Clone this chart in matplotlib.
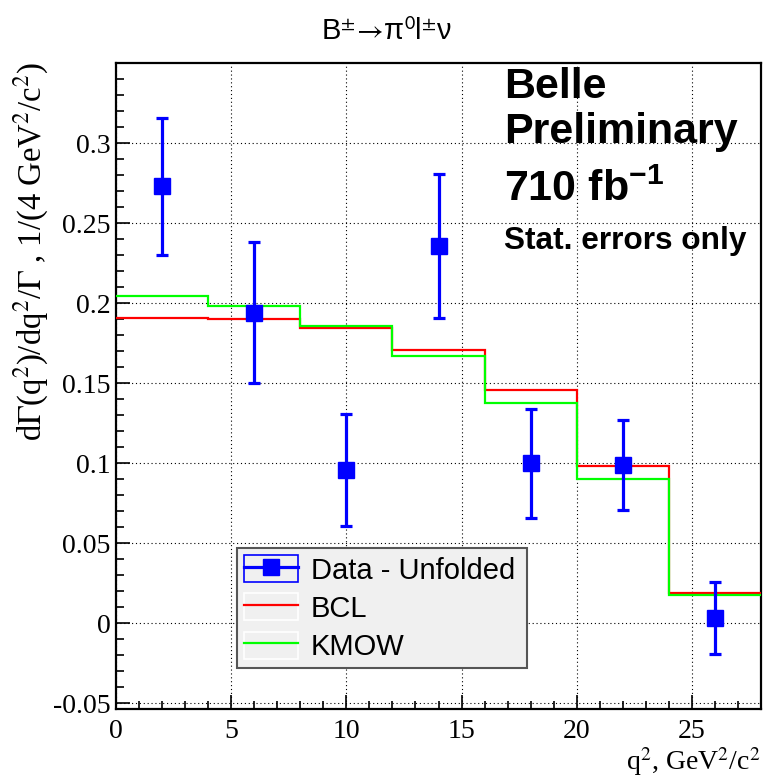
import numpy as np
import matplotlib
matplotlib.use("Agg")
import matplotlib.pyplot as plt
from matplotlib.ticker import MultipleLocator, FuncFormatter
from matplotlib.patches import Rectangle
from matplotlib.lines import Line2D
from matplotlib.legend_handler import HandlerTuple

# data
q2_centers = [2, 6, 10, 14, 18, 22, 26]
data_vals = [0.273, 0.194, 0.096, 0.236, 0.100, 0.099, 0.003]
data_errs = [0.043, 0.044, 0.035, 0.045, 0.034, 0.028, 0.0225]
bin_edges = [0, 4, 8, 12, 16, 20, 24, 28]
bcl_vals = [0.1906, 0.1902, 0.1846, 0.1708, 0.1456, 0.0985, 0.0191]
kmow_vals = [0.2046, 0.1980, 0.1858, 0.1667, 0.1374, 0.0904, 0.0177]
x_ticks = [0, 5, 10, 15, 20, 25]
y_ticks = [-0.05, 0, 0.05, 0.1, 0.15, 0.2, 0.25, 0.3]

plt.rcParams['mathtext.fontset'] = 'custom'
plt.rcParams['mathtext.rm'] = 'Liberation Sans'
plt.rcParams['mathtext.it'] = 'Liberation Sans'
plt.rcParams['mathtext.bf'] = 'Liberation Sans:bold'

W, H = 764, 780
fig = plt.figure(figsize=(W / 100, H / 100), dpi=100)
ax = fig.add_axes([116 / W, 71 / H, 645 / W, 646 / H])

ax.stairs(bcl_vals, bin_edges, baseline=None, color='#ff0000', lw=1.6, zorder=3)
ax.stairs(kmow_vals, bin_edges, baseline=None, color='#00ff00', lw=1.6, zorder=3)
ax.errorbar(q2_centers, data_vals, yerr=data_errs, fmt='s', color='#0000ff',
            ms=11.5, elinewidth=2.3, capsize=4, capthick=2.3, zorder=5)

ax.set_xlim(0, 28)
ax.set_ylim(-0.0537, 0.3502)
ax.set_xticks(x_ticks)
ax.set_yticks(y_ticks)
ax.xaxis.set_minor_locator(MultipleLocator(1))
ax.yaxis.set_minor_locator(MultipleLocator(0.01))
ax.yaxis.set_major_formatter(FuncFormatter(lambda v, p: '0' if abs(v) < 1e-9 else f'{v:g}'))
ax.tick_params(which='both', direction='in', top=False, right=False,
               labelsize=20, width=1.2)
ax.tick_params(which='major', length=10)
ax.tick_params(which='minor', length=5.5)
ax.tick_params(axis='x', pad=7)
ax.tick_params(axis='y', pad=4)
for lab in ax.get_xticklabels() + ax.get_yticklabels():
    lab.set_family('Liberation Serif')
for s in ax.spines.values():
    s.set_linewidth(1.6)
ax.grid(True, which='major', color='black', lw=0.8, linestyle=(0, (1, 2.5)))
ax.set_axisbelow(True)

# legend
h_data = (Rectangle((0, 0), 1, 1, facecolor='none', edgecolor='#0000ff', lw=1.2),
          Line2D([], [], color='#0000ff', lw=2.3, marker='s', ms=11.5))
h_bcl = (Rectangle((0, 0), 1, 1, facecolor='none', edgecolor='white', lw=1.2),
         Line2D([], [], color='#ff0000', lw=1.6))
h_kmow = (Rectangle((0, 0), 1, 1, facecolor='none', edgecolor='white', lw=1.2),
          Line2D([], [], color='#00ff00', lw=1.6))
leg = ax.legend([h_data, h_bcl, h_kmow], ['Data - Unfolded', 'BCL', 'KMOW'],
                handler_map={tuple: HandlerTuple(ndivide=1, pad=0)},
                loc='lower left', bbox_to_anchor=(0.187, 0.063, 0.45, 0.187),
                mode='expand', fancybox=False, shadow=False, framealpha=1,
                facecolor='#f0f0f0', edgecolor='#555555', borderpad=0.25,
                handlelength=1.85, handleheight=1.05, handletextpad=0.45,
                labelspacing=0.3, borderaxespad=0,
                prop={'family': 'Liberation Sans', 'size': 21})
leg.get_frame().set_linewidth(1.5)
leg.set_zorder(6)

# texts
fig.text(386 / W, 1 - 40 / H, r'B$^{\pm}\!\rightarrow\!$π$^{0}$l$^{\pm}$ν',
         ha='center', va='baseline', fontsize=21, family='Liberation Sans',
         math_fontfamily='stixsans')
fig.text(31 / W, 1 - 62 / H,
         r'd$\Gamma$(q$^{2}$)/dq$^{2}$/$\Gamma$ , 1/(4 GeV$^{2}$/c$^{2}$)',
         rotation=90, ha='center', va='top', fontsize=23.5,
         family='Liberation Serif', math_fontfamily='stix')
fig.text(761 / W, 1 - 770 / H, r'q$^{2}$, GeV$^{2}$/c$^{2}$', ha='right',
         va='baseline', fontsize=20, family='Liberation Serif', math_fontfamily='stix')

bx = 504 / W
fig.text(bx, 1 - 98 / H, 'Belle', fontsize=31, weight='bold',
         family='Liberation Sans', va='baseline')
fig.text(bx, 1 - 143 / H, 'Preliminary', fontsize=31, weight='bold',
         family='Liberation Sans', va='baseline')
fig.text(bx, 1 - 201 / H, r'710 fb$^{\mathbf{-1}}$', fontsize=31, weight='bold',
         family='Liberation Sans', va='baseline', math_fontfamily='custom')
fig.text(bx, 1 - 249 / H, 'Stat. errors only', fontsize=22.8, weight='bold',
         family='Liberation Sans', va='baseline')

fig.savefig('out.png', dpi=100)
